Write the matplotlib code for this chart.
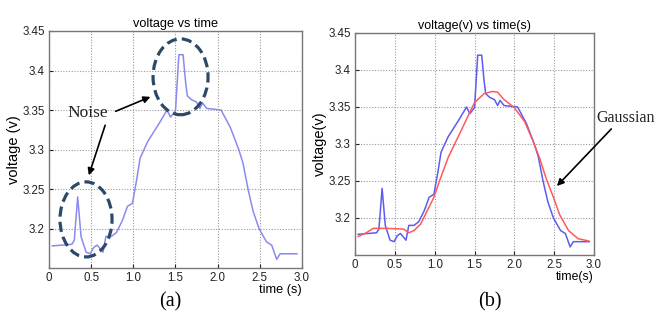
import matplotlib
matplotlib.use("Agg")
import matplotlib.pyplot as plt
from matplotlib.patches import Ellipse

# measured signal (same trace in both panels)
t_raw = [0.04, 0.27, 0.30, 0.34, 0.38, 0.44, 0.49, 0.53, 0.57, 0.61, 0.64, 0.675,
         0.74, 0.80, 0.87, 0.93, 0.99, 1.04, 1.08, 1.17, 1.30, 1.40, 1.44, 1.50,
         1.54, 1.59, 1.62, 1.64, 1.69, 1.75, 1.79, 1.82, 1.87, 2.04, 2.15, 2.25,
         2.30, 2.36, 2.42, 2.49, 2.58, 2.64, 2.70, 2.74, 2.94]
v_raw = [3.178, 3.180, 3.185, 3.240, 3.190, 3.170, 3.168, 3.176, 3.179, 3.174, 3.170, 3.190,
         3.190, 3.195, 3.210, 3.228, 3.232, 3.262, 3.289, 3.310, 3.332, 3.350, 3.341, 3.349,
         3.420, 3.420, 3.385, 3.368, 3.363, 3.360, 3.352, 3.359, 3.352, 3.350, 3.328, 3.300,
         3.283, 3.250, 3.222, 3.200, 3.183, 3.179, 3.161, 3.168, 3.168]

# gaussian filtered signal
t_gauss = [0.04, 0.14, 0.23, 0.40, 0.61, 0.675, 0.74, 0.825, 0.93, 0.99, 1.06, 1.17,
           1.30, 1.42, 1.50, 1.62, 1.72, 1.79, 1.87, 2.00, 2.13, 2.23, 2.32, 2.40,
           2.49, 2.57, 2.68, 2.80, 2.93]
v_gauss = [3.175, 3.180, 3.186, 3.186, 3.185, 3.180, 3.183, 3.192, 3.215, 3.228, 3.250, 3.282,
           3.311, 3.338, 3.356, 3.368, 3.371, 3.370, 3.360, 3.349, 3.330, 3.305, 3.280, 3.253,
           3.228, 3.204, 3.183, 3.172, 3.169]

xticks = [0, 0.5, 1.0, 1.5, 2.0, 2.5, 3.0]
xticklabels = ["0", "0.5", "1.0", "1.5", "2.0", "2.5", "3.0"]
yticks = [3.2, 3.25, 3.3, 3.35, 3.4, 3.45]
yticklabels = ["3.2", "3.25", "3.3", "3.35", "3.4", "3.45"]

plt.rcParams["font.family"] = ["Liberation Sans", "DejaVu Sans"]

fig = plt.figure(figsize=(6.72, 3.27), dpi=100)
ax1 = fig.add_axes([0.0729, 0.1804, 0.3765, 0.7248])
ax2 = fig.add_axes([0.5283, 0.2202, 0.3557, 0.6789])


def style(ax):
    ax.set_xlim(0, 3.0)
    ax.set_ylim(3.15, 3.45)
    ax.set_xticks(xticks)
    ax.set_xticklabels(xticklabels)
    ax.set_yticks(yticks)
    ax.set_yticklabels(yticklabels)
    ax.tick_params(direction="in", length=3, labelsize=8.3, colors="#222222", pad=3)
    ax.grid(True, linestyle=(0, (1, 1.5)), color="#999999", linewidth=0.8)
    for s in ax.spines.values():
        s.set_color("#777777")
        s.set_linewidth(1.0)


style(ax1)
style(ax2)

# panel (a)
ax1.plot(t_raw, v_raw, color="#8a8af0", linewidth=1.1)
ax1.set_title("voltage vs time", fontsize=9.2, pad=3)
ax1.set_ylabel("voltage (v)", fontsize=10.5, labelpad=1)
ax1.set_xlabel("time (s)", fontsize=9.2, loc="right", labelpad=0)

for cx, cy, w, h in [(1.56, 3.392, 0.652, 0.096), (0.439, 3.2115, 0.617, 0.095)]:
    ax1.add_patch(Ellipse((cx, cy), w, h, fill=False, edgecolor="#2c4a68",
                          linewidth=2.3, linestyle=(0, (3.2, 1.6)), clip_on=False, zorder=5))

ax1.text(0.46, 3.346, "Noise", fontsize=12.5, family="Liberation Serif",
         ha="center", va="center", color="#222222")
arrow = dict(arrowstyle="-|>", color="black", lw=1.2, mutation_scale=10)
ax1.annotate("", xy=(1.233, 3.368), xytext=(0.76, 3.347), arrowprops=arrow)
ax1.annotate("", xy=(0.462, 3.264), xytext=(0.676, 3.334), arrowprops=arrow)

# panel (b)
ax2.plot(t_raw, v_raw, color="#5c5cf0", linewidth=1.1)
ax2.plot(t_gauss, v_gauss, color="#ff5a5a", linewidth=1.1)
ax2.set_title("voltage(v) vs time(s)", fontsize=9, pad=3)
ax2.set_ylabel("voltage(v)", fontsize=10.5, labelpad=1)
ax2.set_xlabel("time(s)", fontsize=8.8, loc="right", labelpad=0)

ax2.text(3.40, 3.335, "Gaussian", fontsize=11.5, family="Liberation Serif",
         ha="center", va="center", color="#222222")
ax2.annotate("", xy=(2.51, 3.2405), xytext=(3.24, 3.323), arrowprops=arrow,
             annotation_clip=False)

fig.text(170 / 672, 1 - 302 / 327, "(a)", fontsize=14.5, family="Liberation Serif",
         ha="center", va="center")
fig.text(490 / 672, 1 - 302 / 327, "(b)", fontsize=14.5, family="Liberation Serif",
         ha="center", va="center")

fig.savefig("out.png", dpi=100)
